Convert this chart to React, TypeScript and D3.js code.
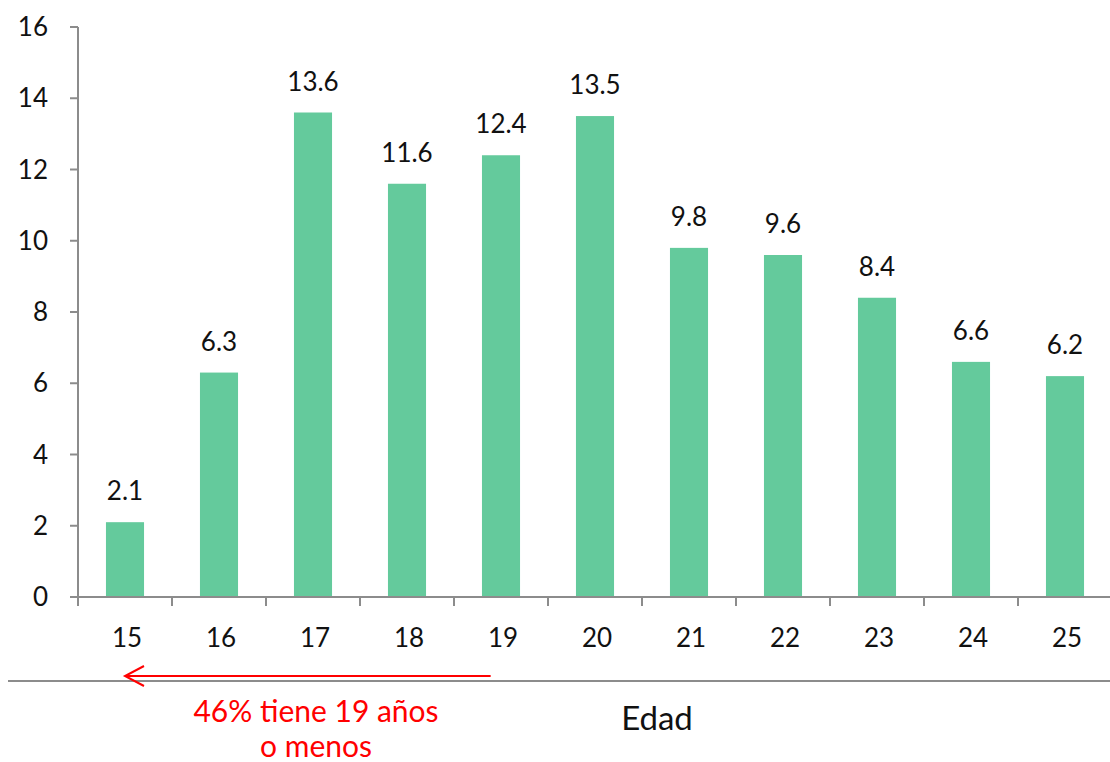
import React from "react";
import * as d3 from "d3";

const ages = ["15", "16", "17", "18", "19", "20", "21", "22", "23", "24", "25"];
const values = [2.1, 6.3, 13.6, 11.6, 12.4, 13.5, 9.8, 9.6, 8.4, 6.6, 6.2];
const yTicks = [0, 2, 4, 6, 8, 10, 12, 14, 16];
const xTitle = "Edad";
const noteLines = ["46% tiene 19 años", "o menos"];

export default function App() {
  const W = 1110, H = 762;
  const left = 78, right = 1112, top = 27, bottom = 597;
  const x = d3.scaleBand<string>().domain(ages).range([left, right]).paddingInner(0.595).paddingOuter(0.2975);
  const xb = d3.scaleBand<string>().domain(ages).range([left, right]);
  const y = d3.scaleLinear().domain([0, 16]).range([bottom, top]);
  const font = "Lato, 'Open Sans', sans-serif";
  const axisColor = "#8c8c8c";
  const barColor = "#64CA9C";
  const arrowStart = xb("19")! + xb.bandwidth() * 0.39;
  const arrowEnd = xb("15")! + xb.bandwidth() / 2;
  const arrowY = 676;
  return (
    <svg width={W} height={H} style={{ position: "absolute", left: 0, top: 0 }} fontFamily={font}>
      <rect width={W} height={H} fill="#fff" />
      {ages.map((a, i) => (
        <rect key={a} x={x(a)} y={y(values[i])} width={x.bandwidth()} height={y(0) - y(values[i])} fill={barColor} />
      ))}
      {ages.map((a, i) => (
        <text key={"v" + a} x={x(a)! + x.bandwidth() / 2} y={y(values[i]) - 22} textAnchor="middle" fontSize={26} fill="#111">
          {values[i].toFixed(1)}
        </text>
      ))}
      <line x1={left} x2={left} y1={y(16)} y2={y(0)} stroke={axisColor} strokeWidth={2} />
      {yTicks.map((t) => (
        <g key={"y" + t}>
          <line x1={left - 8} x2={left} y1={y(t)} y2={y(t)} stroke={axisColor} strokeWidth={2} />
          <text x={48} y={y(t)} dy="0.35em" textAnchor="end" fontSize={26} fill="#111">{t}</text>
        </g>
      ))}
      <line x1={left - 8} x2={W} y1={y(0)} y2={y(0)} stroke={axisColor} strokeWidth={2} />
      {ages.map((a) => (
        <line key={"xt" + a} x1={xb(a)} x2={xb(a)} y1={y(0)} y2={y(0) + 9} stroke={axisColor} strokeWidth={2} />
      ))}
      {ages.map((a) => (
        <text key={"xl" + a} x={xb(a)! + xb.bandwidth() / 2 + 2} y={647} textAnchor="middle" fontSize={26} fill="#111">{a}</text>
      ))}
      <line x1={8} x2={W} y1={681} y2={681} stroke={axisColor} strokeWidth={2} />
      <line x1={arrowStart} x2={arrowEnd} y1={arrowY} y2={arrowY} stroke="#ff0000" strokeWidth={2} />
      <path d={`M${arrowEnd + 19},${arrowY - 10} L${arrowEnd},${arrowY} L${arrowEnd + 19},${arrowY + 10}`} fill="none" stroke="#ff0000" strokeWidth={2} />
      <text x={316} y={722} textAnchor="middle" fontSize={30} fill="#ff0000">{noteLines[0]}</text>
      <text x={316} y={757} textAnchor="middle" fontSize={30} fill="#ff0000">{noteLines[1]}</text>
      <text x={657} y={730} textAnchor="middle" fontSize={33} fill="#111">{xTitle}</text>
    </svg>
  );
}
